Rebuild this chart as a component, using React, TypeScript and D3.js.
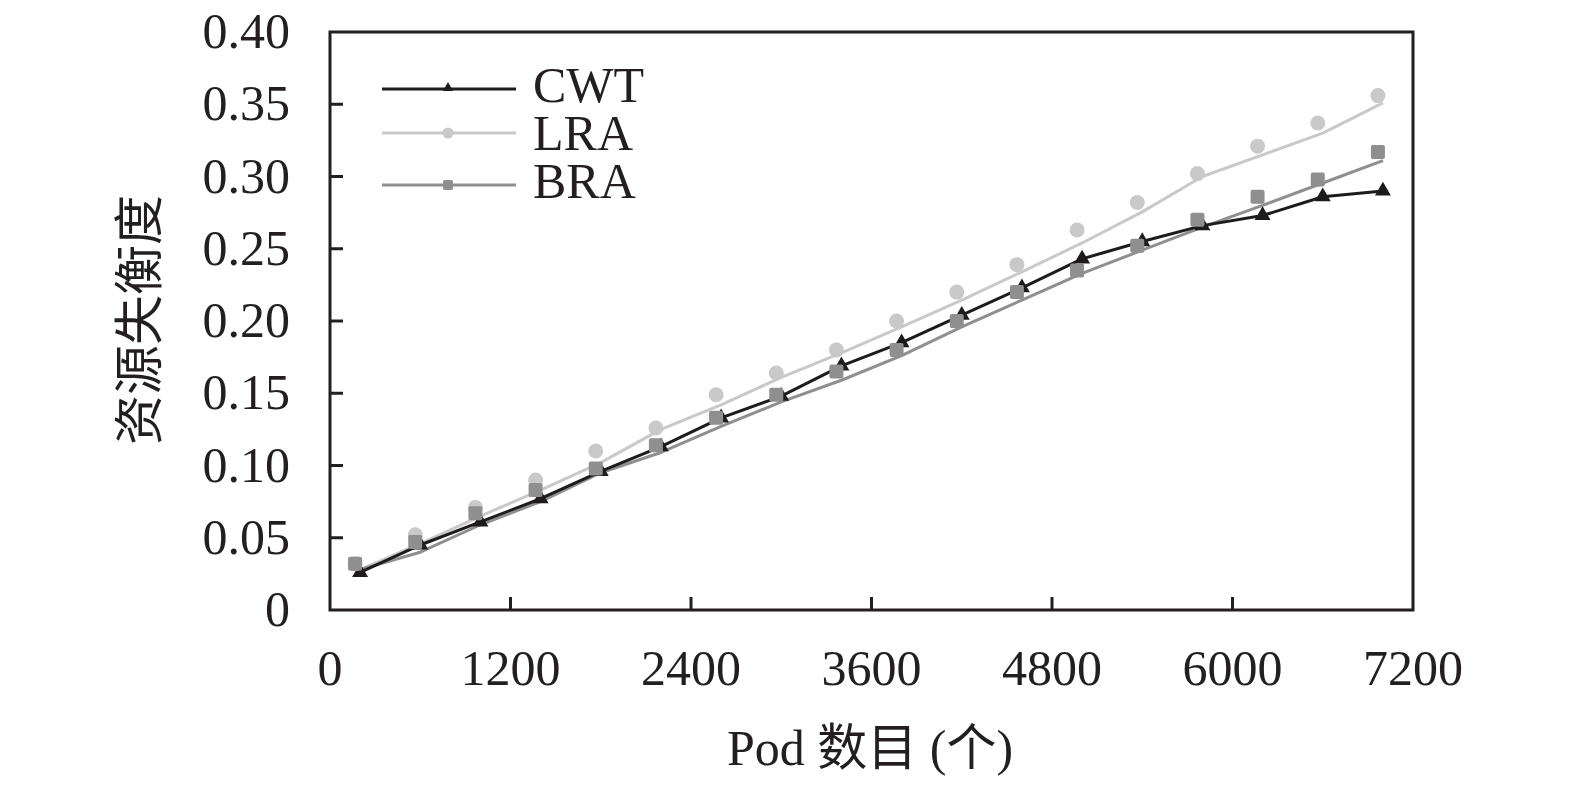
import React from "react";
import * as d3 from "d3";

// ---------- data ----------
const pods = [200, 600, 1000, 1400, 1800, 2200, 2600, 3000, 3400, 3800, 4200, 4600, 5000, 5400, 5800, 6200, 6600, 7000];

const cwtValues = [0.026, 0.045, 0.061, 0.077, 0.096, 0.113, 0.133, 0.148, 0.169, 0.185, 0.204, 0.223, 0.243, 0.255, 0.266, 0.273, 0.286, 0.290];

const lraMarkerValues = [0.032, 0.052, 0.071, 0.090, 0.110, 0.126, 0.149, 0.164, 0.180, 0.200, 0.220, 0.239, 0.263, 0.282, 0.302, 0.321, 0.337, 0.356];
const lraLineValues = [0.028, 0.046, 0.065, 0.083, 0.102, 0.125, 0.142, 0.161, 0.178, 0.196, 0.2145, 0.234, 0.254, 0.2755, 0.300, 0.315, 0.330, 0.351];

const braMarkerValues = [0.032, 0.047, 0.067, 0.083, 0.098, 0.114, 0.133, 0.149, 0.165, 0.180, 0.200, 0.220, 0.235, 0.252, 0.270, 0.286, 0.298, 0.317];
const braLineValues = [0.028, 0.040, 0.059, 0.075, 0.095, 0.109, 0.127, 0.144, 0.159, 0.176, 0.196, 0.2145, 0.233, 0.249, 0.265, 0.280, 0.2955, 0.311];

const xTicks = [0, 1200, 2400, 3600, 4800, 6000, 7200];
const yTicks = [0, 0.05, 0.1, 0.15, 0.2, 0.25, 0.3, 0.35, 0.4];
const yTickLabels = ["0", "0.05", "0.10", "0.15", "0.20", "0.25", "0.30", "0.35", "0.40"];

const seriesNames = ["CWT", "LRA", "BRA"];

// ---------- styles ----------
const W = 1575;
const H = 789;
const LEFT = 330;
const RIGHT = 1413;
const TOP = 32;
const BOTTOM = 610;
const INK = "#231f20";
const C_CWT = "#1e1b1c";
const C_LRA = "#c9c9c9";
const C_BRA = "#8f8f8f";
const SERIF = "'Liberation Serif', 'Times New Roman', 'Noto Sans CJK SC', serif";
const MARKER_DX = -5;

export default function App() {
  const x = d3.scaleLinear().domain([0, 7200]).range([LEFT, RIGHT]);
  const y = d3.scaleLinear().domain([0, 0.4]).range([BOTTOM, TOP]);

  const line = d3
    .line<number>()
    .x((_, i) => x(pods[i]))
    .y((v) => y(v));

  const tri = d3.symbol().type(d3.symbolTriangle).size(110)();
  const triLegend = d3.symbol().type(d3.symbolTriangle).size(45)();

  const legendY = [89, 133, 185];
  const legendTextY = [102, 150, 198];
  const legendColors = [C_CWT, C_LRA, C_BRA];

  return (
    <svg
      width={W}
      height={H}
      style={{ position: "absolute", left: 0, top: 0, background: "#fff" }}
    >
      {/* lines */}
      <path d={line(lraLineValues) || ""} fill="none" stroke={C_LRA} strokeWidth={3} strokeLinejoin="round" />
      <path d={line(braLineValues) || ""} fill="none" stroke={C_BRA} strokeWidth={3} strokeLinejoin="round" />
      <path d={line(cwtValues) || ""} fill="none" stroke={C_CWT} strokeWidth={3} strokeLinejoin="round" />

      {/* markers */}
      {cwtValues.map((v, i) => (
        <path key={"t" + i} d={tri || ""} transform={`translate(${x(pods[i])},${y(v)})`} fill={C_CWT} />
      ))}
      {lraMarkerValues.map((v, i) => (
        <circle key={"c" + i} cx={x(pods[i]) + MARKER_DX} cy={y(v)} r={7.5} fill={C_LRA} />
      ))}
      {braMarkerValues.map((v, i) => (
        <rect
          key={"s" + i}
          x={x(pods[i]) + MARKER_DX - 7}
          y={y(v) - 7}
          width={14}
          height={14}
          rx={2}
          fill={C_BRA}
        />
      ))}

      {/* frame */}
      <rect x={LEFT} y={TOP} width={RIGHT - LEFT} height={BOTTOM - TOP} fill="none" stroke={INK} strokeWidth={3} />

      {/* y ticks */}
      {yTicks.map((t, i) => (
        <g key={"yt" + i}>
          {i > 0 && i < yTicks.length - 1 && (
            <line x1={LEFT} x2={LEFT + 13} y1={y(t)} y2={y(t)} stroke={INK} strokeWidth={3} />
          )}
          <text
            x={290}
            y={y(t) + 16}
            textAnchor="end"
            fontFamily={SERIF}
            fontSize={50}
            fill={INK}
          >
            {yTickLabels[i]}
          </text>
        </g>
      ))}

      {/* x ticks */}
      {xTicks.map((t, i) => (
        <g key={"xt" + i}>
          {i > 0 && i < xTicks.length - 1 && (
            <line x1={x(t)} x2={x(t)} y1={BOTTOM} y2={BOTTOM - 13} stroke={INK} strokeWidth={3} />
          )}
          <text x={x(t)} y={685} textAnchor="middle" fontFamily={SERIF} fontSize={50} fill={INK}>
            {t}
          </text>
        </g>
      ))}

      {/* axis titles */}
      <text
        transform="translate(135,320) rotate(-90)"
        textAnchor="middle"
        dominantBaseline="central"
        fontFamily="'Noto Sans CJK SC', sans-serif"
        fontSize={50}
        fill={INK}
      >
        资源失衡度
      </text>
      <text x={870} y={765} textAnchor="middle" fontFamily={SERIF} fontSize={50} fill={INK}>
        Pod 数目 (个)
      </text>

      {/* legend */}
      {seriesNames.map((name, i) => (
        <g key={"lg" + i}>
          <line x1={382} x2={516} y1={legendY[i]} y2={legendY[i]} stroke={legendColors[i]} strokeWidth={3} />
          {i === 0 && <path d={triLegend || ""} transform={`translate(448,${legendY[i] - 1})`} fill={C_CWT} />}
          {i === 1 && <circle cx={448} cy={legendY[i]} r={5.5} fill={C_LRA} />}
          {i === 2 && <rect x={443} y={legendY[i] - 5} width={10} height={10} rx={2} fill={C_BRA} />}
          <text x={533} y={legendTextY[i]} fontFamily={SERIF} fontSize={50} fill={INK}>
            {name}
          </text>
        </g>
      ))}
    </svg>
  );
}
